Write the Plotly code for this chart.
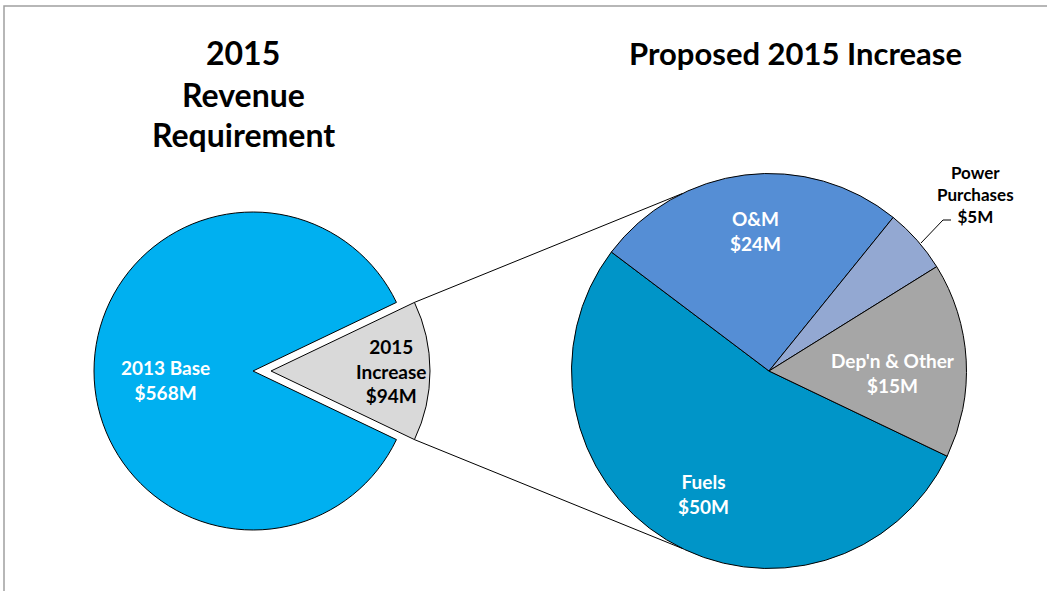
import math
import plotly.graph_objects as go

# --- data -------------------------------------------------------------
total_labels = ["2015 Increase", "2013 Base"]
total_values = [94, 568]          # $M
total_colors = ["#D9D9D9", "#00B0F0"]

split_labels = ["Fuels", "O&M", "Power Purchases", "Dep'n & Other"]
split_values = [50, 24, 5, 15]    # $M
split_colors = ["#0095C8", "#558ED5", "#93A8D2", "#A6A6A6"]

W, H = 1047, 591
FONT = "Lato"


def px(x):
    return x / W


def py(y):
    return (H - y) / H


# left pie geometry (pixels)
L_CX, L_CY, L_R = 253, 371, 159
L_PULL = 18 / L_R
# right pie geometry (pixels)
R_CX, R_CY, R_R = 769, 371, 197.5

inc_share = total_values[0] / sum(total_values)
half_deg = 180 * inc_share  # half the angular width of the increase slice

fig = go.Figure()

ld = L_R * (1 + L_PULL)
fig.add_trace(go.Pie(
    labels=total_labels, values=total_values, sort=False,
    direction="clockwise", rotation=90 - half_deg,
    pull=[L_PULL, 0],
    marker=dict(colors=total_colors, line=dict(color="black", width=1)),
    textinfo="none", hoverinfo="label+value", showlegend=False,
    domain=dict(x=[px(L_CX - ld), px(L_CX + ld)], y=[py(L_CY + ld), py(L_CY - ld)]),
))

fig.add_trace(go.Pie(
    labels=split_labels, values=split_values, sort=False,
    direction="clockwise", rotation=90 + half_deg,
    marker=dict(colors=split_colors, line=dict(color="black", width=1)),
    textinfo="none", hoverinfo="label+value", showlegend=False,
    domain=dict(x=[px(R_CX - R_R), px(R_CX + R_R)], y=[py(R_CY + R_R), py(R_CY - R_R)]),
))

shapes = []
# connector lines from the pulled slice corners to the breakdown pie
ax = L_CX + L_PULL * L_R  # apex of the pulled slice
for sgn in (1, -1):
    a = math.radians(half_deg) * sgn
    x0 = ax + L_R * math.cos(a)
    y0 = L_CY - L_R * math.sin(a)
    b = math.radians(116) * sgn
    x1 = R_CX + R_R * math.cos(b)
    y1 = R_CY - R_R * math.sin(b)
    shapes.append(dict(type="line", xref="paper", yref="paper",
                       x0=px(x0), y0=py(y0), x1=px(x1), y1=py(y1),
                       line=dict(color="black", width=1)))

# leader line for the small slice label
shapes.append(dict(type="path", xref="paper", yref="paper",
                   path=f"M {px(921)} {py(243)} L {px(943)} {py(220)} L {px(951)} {py(220)}",
                   line=dict(color="black", width=1)))

# chart frame
shapes.append(dict(type="rect", xref="paper", yref="paper",
                   x0=px(4), y0=py(6), x1=px(1060), y1=py(600),
                   line=dict(color="#A0A0A0", width=1.5)))

annotations = []


def note(text, x, y, size, color="black"):
    annotations.append(dict(text=text, x=px(x), y=py(y), xref="paper", yref="paper",
                            showarrow=False, xanchor="center", yanchor="middle",
                            font=dict(family=FONT, size=size, color=color)))


for line, yy in zip(["2015", "Revenue", "Requirement"], [52, 94, 134]):
    note(f"<b>{line}</b>", 243, yy, 32)
note("<b>Proposed 2015 Increase</b>", 795, 53, 31)


def money(v):
    return f"${v}M"


note(f"<b>2013 Base<br>{money(total_values[1])}</b>", 165, 380, 19, "white")
note(f"<b>2015<br>Increase<br>{money(total_values[0])}</b>", 391, 371, 19)
note(f"<b>{split_labels[1]}<br>{money(split_values[1])}</b>", 755, 231, 19, "white")
note(f"<b>{split_labels[0]}<br>{money(split_values[0])}</b>", 703, 494, 19, "white")
note(f"<b>{split_labels[3]}<br>{money(split_values[3])}</b>", 893, 373, 19, "white")
note(f"<b>Power<br>Purchases<br>{money(split_values[2])}</b>", 975, 194, 17)

fig.update_layout(
    width=W, height=H, margin=dict(l=0, r=0, t=0, b=0),
    paper_bgcolor="white", plot_bgcolor="white",
    shapes=shapes, annotations=annotations,
)

fig.write_html("out.html")
